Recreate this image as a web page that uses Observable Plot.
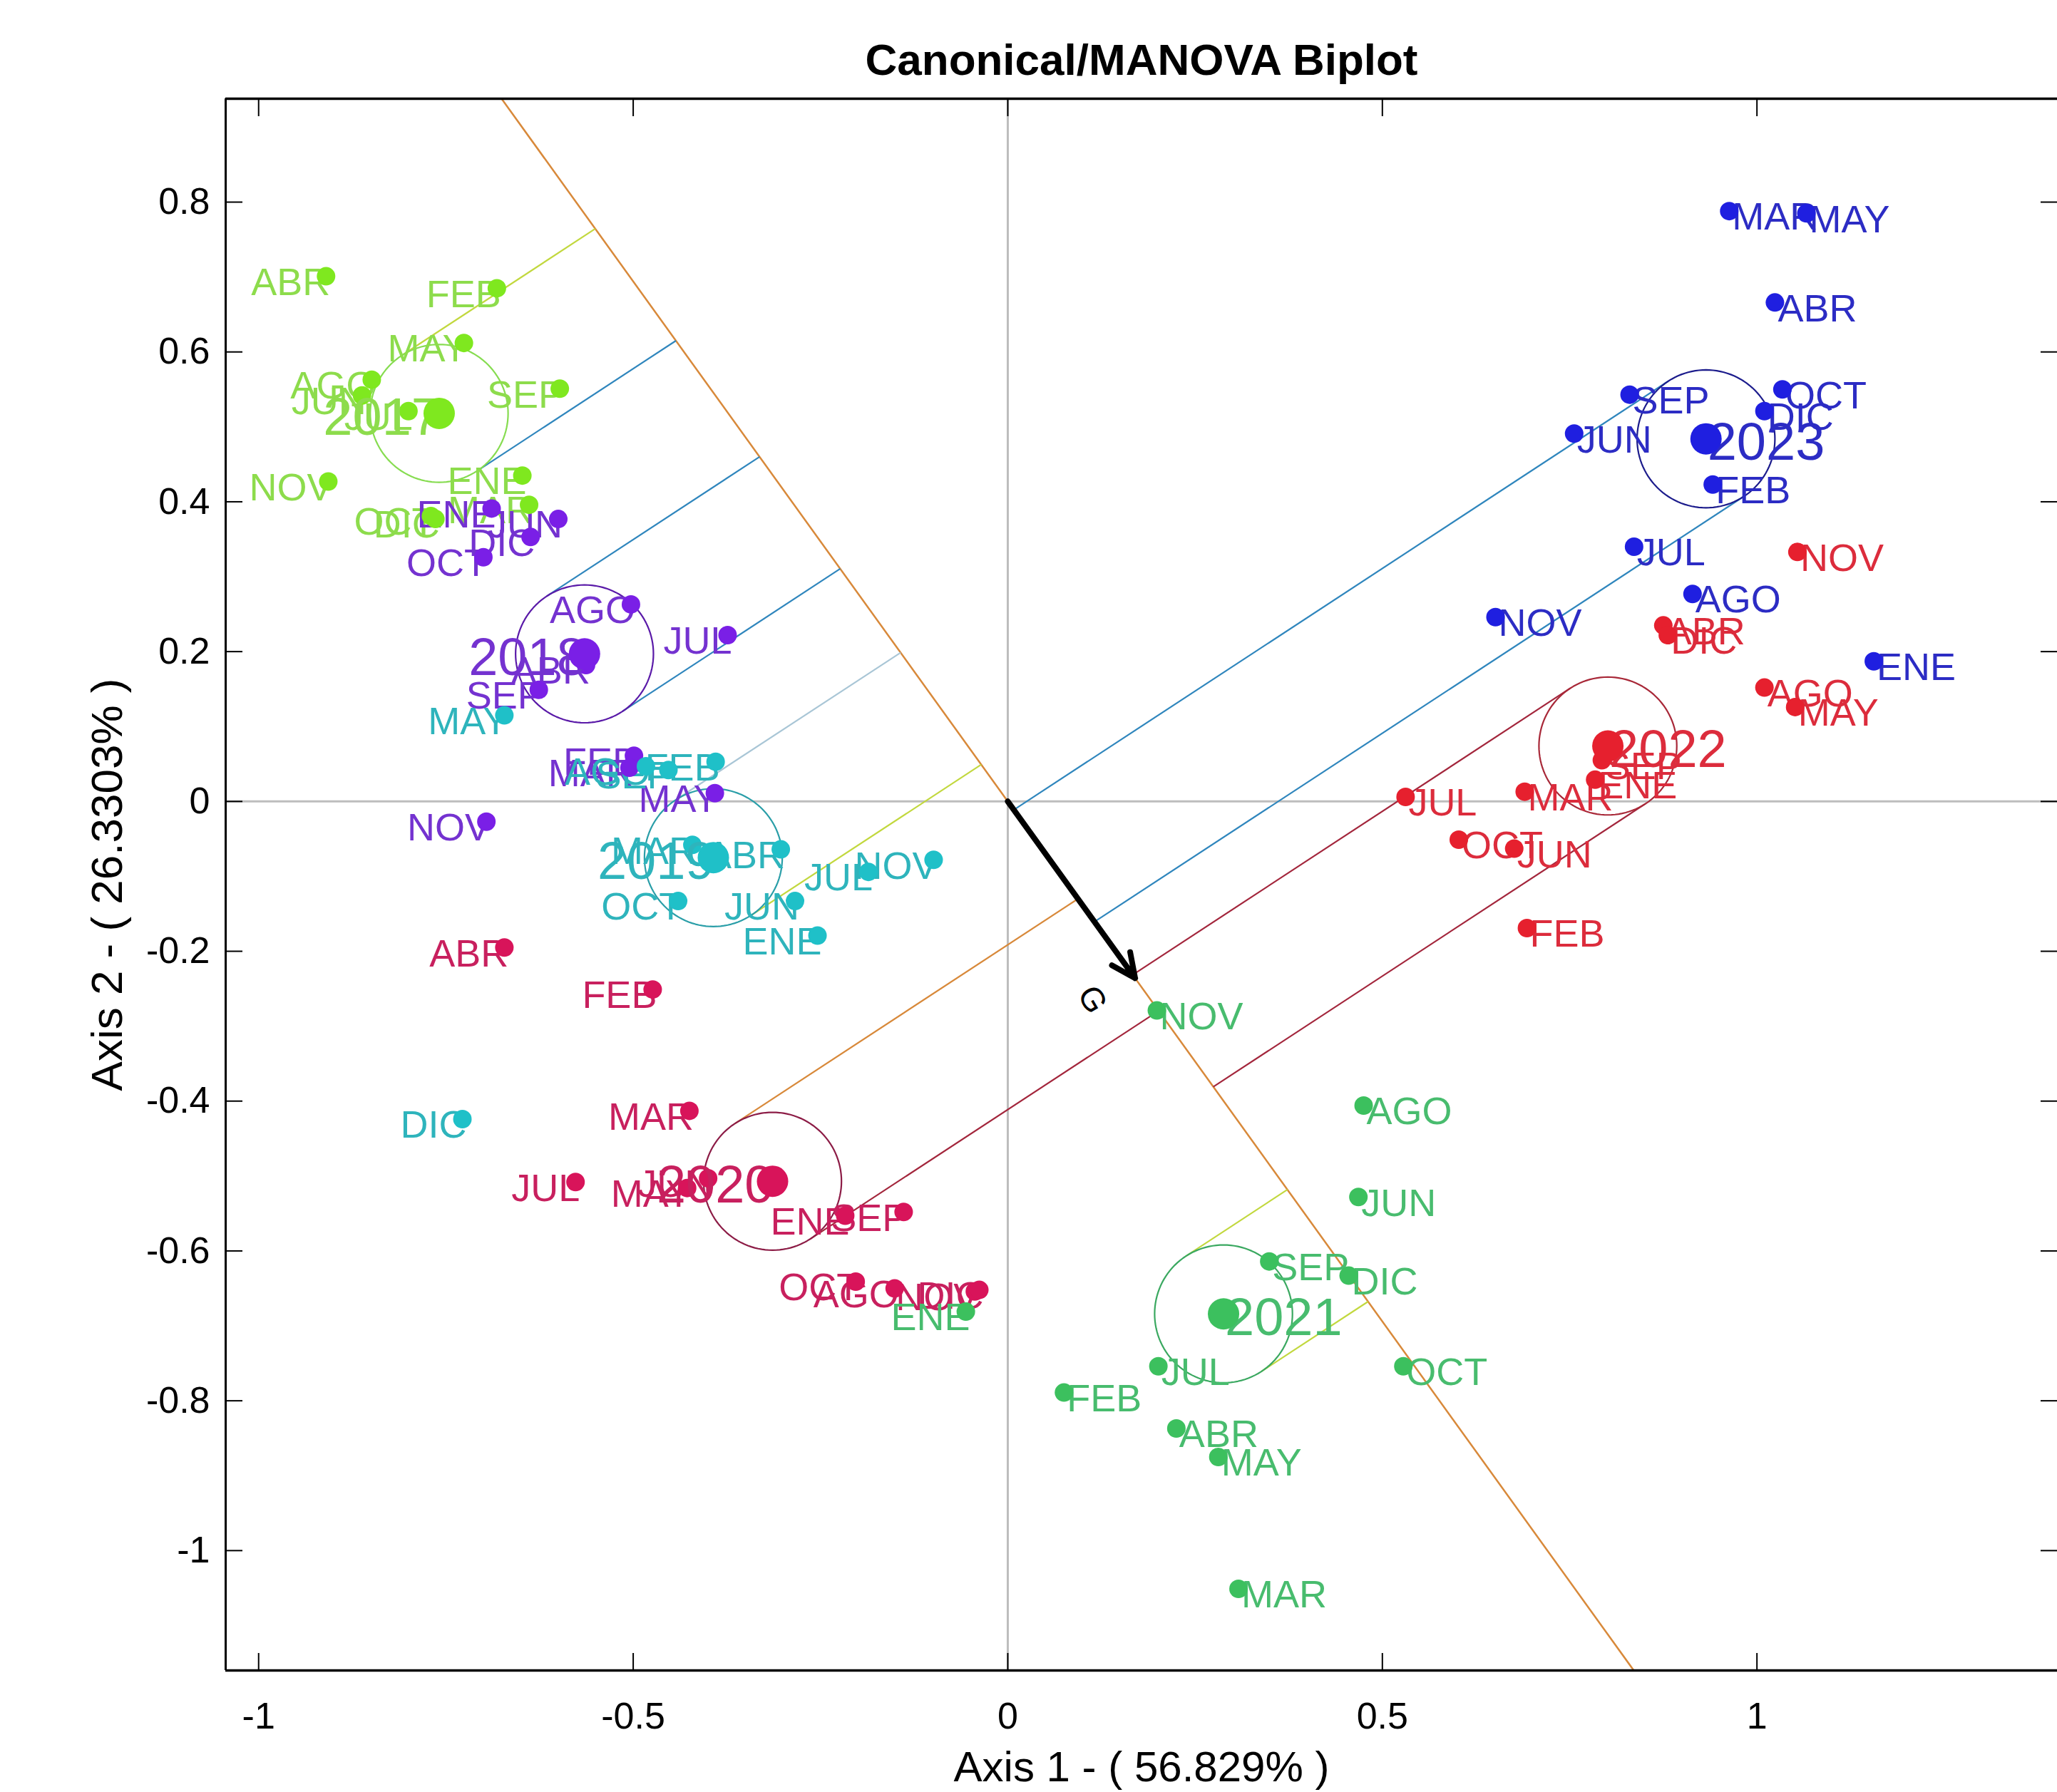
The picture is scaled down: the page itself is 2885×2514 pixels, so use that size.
<!DOCTYPE html>
<html>
<head>
<meta charset="utf-8">
<script src="https://cdn.jsdelivr.net/npm/d3@7"></script>
<script src="https://cdn.jsdelivr.net/npm/@observablehq/plot@0.6"></script>
<style>
  html, body { margin: 0; padding: 0; background: #ffffff; }
  #chart svg { display: block; }
</style>
</head>
<body>
<div id="chart"></div>
<script>
// ---------------- data ----------------
const months = ["ENE", "FEB", "MAR", "ABR", "MAY", "JUN", "JUL", "AGO", "SEP", "OCT", "NOV", "DIC"];
const years = ["2017", "2018", "2019", "2020", "2021", "2022", "2023"];

const x2017 = [-0.648, -0.682, -0.639, -0.910, -0.726, -0.862, -0.800, -0.849, -0.598, -0.770, -0.907, -0.764];
const y2017 = [ 0.435,  0.685,  0.396,  0.701,  0.612,  0.542,  0.521,  0.563,  0.551,  0.381,  0.427,  0.377];
const x2018 = [-0.689, -0.499, -0.505, -0.563, -0.391, -0.600, -0.374, -0.503, -0.626, -0.700, -0.696, -0.637];
const y2018 = [ 0.391,  0.061,  0.045,  0.182,  0.011,  0.377,  0.222,  0.263,  0.149,  0.326, -0.027,  0.353];
const x2019 = [-0.254, -0.390, -0.421, -0.303, -0.672, -0.284, -0.186, -0.483, -0.453, -0.440, -0.099, -0.728];
const y2019 = [-0.179,  0.053, -0.058, -0.064,  0.115, -0.133, -0.094,  0.047,  0.042, -0.133, -0.078, -0.424];
const x2020 = [-0.217, -0.474, -0.425, -0.672, -0.428, -0.400, -0.577, -0.151, -0.139, -0.203, -0.044, -0.038];
const y2020 = [-0.553, -0.251, -0.413, -0.195, -0.516, -0.503, -0.508, -0.650, -0.548, -0.641, -0.654, -0.652];
const x2021 = [-0.056,  0.075,  0.308,  0.225,  0.281,  0.468,  0.201,  0.475,  0.349,  0.528,  0.199,  0.455];
const y2021 = [-0.681, -0.789, -1.051, -0.837, -0.875, -0.528, -0.754, -0.406, -0.614, -0.754, -0.279, -0.633];
const x2022 = [ 0.784,  0.693,  0.690,  0.875,  1.051,  0.676,  0.531,  1.010,  0.793,  0.602,  1.054,  0.881];
const y2022 = [ 0.029, -0.169,  0.013,  0.235,  0.126, -0.063,  0.006,  0.152,  0.055, -0.051,  0.333,  0.222];
const x2023 = [ 1.156,  0.941,  0.963,  1.024,  1.066,  0.756,  0.836,  0.914,  0.830,  1.034,  0.651,  1.010];
const y2023 = [ 0.187,  0.423,  0.788,  0.666,  0.785,  0.491,  0.340,  0.277,  0.543,  0.550,  0.246,  0.521];

const centroidX = [-0.759, -0.565, -0.393, -0.314, 0.288, 0.801, 0.932];
const centroidY = [ 0.518,  0.197, -0.075, -0.507, -0.684, 0.074, 0.484];
const circleRadius = 0.092;          // confidence circle radius (axis units)

const gVector = [0.170, -0.236];     // variable G (arrow & biplot axis direction)
const projDir = [1, 0.655];          // direction of the projection lines

const xTicks = [-1, -0.5, 0, 0.5, 1];
const xTickLabels = ["-1", "-0.5", "0", "0.5", "1"];
const yTicks = [0.8, 0.6, 0.4, 0.2, 0, -0.2, -0.4, -0.6, -0.8, -1];
const yTickLabels = ["0.8", "0.6", "0.4", "0.2", "0", "-0.2", "-0.4", "-0.6", "-0.8", "-1"];

const titleText = "Canonical/MANOVA Biplot";
const xLabel = "Axis 1 - ( 56.829% )";
const yLabel = "Axis 2 - ( 26.3303% )";

// ---------------- styles ----------------
const dotColors    = ["#7fe81f", "#7a1fe6", "#1fc0c8", "#d8145a", "#3cc05e", "#e6202e", "#1f1fe0"];
const textColors   = ["#8ddc4c", "#7432d0", "#2eb4bc", "#c8205e", "#48bc6e", "#dc2c3c", "#2c2cc4"];
const circleColors = ["#86dc50", "#5a1aa8", "#2a9ea8", "#8c1c46", "#3aa860", "#a82838", "#1c1c8c"];
const lineColorsA  = ["#c2d83e", "#2f86bd", "#a9c6d6", "#d8893a", "#c2d83e", "#a3263c", "#2f86bd"];
const lineColorsB  = ["#2f86bd", "#2f86bd", "#c2d83e", "#a3263c", "#c2d83e", "#a3263c", "#2f86bd"];
const axisColor = "#d8893a";
const FONT = "'Liberation Sans', Arial, Helvetica, sans-serif";

// ---------------- derived tables ----------------
const xs = [x2017, x2018, x2019, x2020, x2021, x2022, x2023];
const ys = [y2017, y2018, y2019, y2020, y2021, y2022, y2023];
const points = years.flatMap((yr, g) => months.map((m, i) => ({year: yr, g, month: m, x: xs[g][i], y: ys[g][i]})));
const centroids = years.map((yr, g) => ({year: yr, g, x: centroidX[g], y: centroidY[g]}));

const gl = Math.hypot(gVector[0], gVector[1]);
const a = [gVector[0] / gl, gVector[1] / gl];
const dl = Math.hypot(projDir[0], projDir[1]);
const d = [projDir[0] / dl, projDir[1] / dl];
const nrm = [d[1], -d[0]];
const cross = (u, v) => u[0] * v[1] - u[1] * v[0];

const projLines = centroids.flatMap(c => [-1, 1].map(sgn => {
  const P = [c.x + sgn * circleRadius * nrm[0], c.y + sgn * circleRadius * nrm[1]];
  const s = -cross(P, a) / cross(d, a);
  return {x1: P[0], y1: P[1], x2: P[0] + s * d[0], y2: P[1] + s * d[1],
          color: sgn < 0 ? lineColorsA[c.g] : lineColorsB[c.g]};
}));

const circlePts = centroids.flatMap(c => d3.range(0, 121).map(k => {
  const t = (k / 120) * 2 * Math.PI;
  return {g: c.g, x: c.x + circleRadius * Math.cos(t), y: c.y + circleRadius * Math.sin(t)};
}));

const biplotAxis = [{x1: -3 * a[0], y1: -3 * a[1], x2: 3 * a[0], y2: 3 * a[1]}];
const arrowData = [{x1: 0, y1: 0, x2: gVector[0], y2: gVector[1]}];

const xDomain = [-1.044, 1.401];
const yDomain = [-1.160, 0.938];
const xFmt = new Map(xTicks.map((v, i) => [v, xTickLabels[i]]));
const yFmt = new Map(yTicks.map((v, i) => [v, yTickLabels[i]]));

const chart = Plot.plot({
  width: 2885,
  height: 2514,
  marginLeft: 316,
  marginRight: 0,
  marginTop: 138,
  marginBottom: 171,
  style: {fontFamily: FONT, background: "#ffffff", color: "#000000"},
  x: {domain: xDomain},
  y: {domain: yDomain},
  color: {type: "identity"},
  marks: [
    // zero lines
    Plot.ruleX([0], {stroke: "#bdbdbd", strokeWidth: 3}),
    Plot.ruleY([0], {stroke: "#bdbdbd", strokeWidth: 3}),
    // biplot axis of G
    Plot.link(biplotAxis, {x1: "x1", y1: "y1", x2: "x2", y2: "y2", stroke: axisColor, strokeWidth: 2.5, clip: true}),
    // projection lines of the confidence circles
    Plot.link(projLines, {x1: "x1", y1: "y1", x2: "x2", y2: "y2", stroke: "color", strokeWidth: 2.2, clip: true}),
    // confidence circles
    Plot.line(circlePts, {x: "x", y: "y", z: "g", stroke: p => circleColors[p.g], strokeWidth: 2.2, curve: "linear"}),
    // month labels (left of the point when x<0, right otherwise)
    Plot.text(points.filter(p => p.x < 0), {x: "x", y: "y", text: "month", fill: p => textColors[p.g],
      textAnchor: "end", dx: 6, dy: 9, fontSize: 54}),
    Plot.text(points.filter(p => p.x >= 0), {x: "x", y: "y", text: "month", fill: p => textColors[p.g],
      textAnchor: "start", dx: 4, dy: 9, fontSize: 54}),
    // month points
    Plot.dot(points, {x: "x", y: "y", r: 13, fill: p => dotColors[p.g], stroke: "none"}),
    // year labels and centroids
    Plot.text(centroids.filter(c => c.x < 0), {x: "x", y: "y", text: "year", fill: c => textColors[c.g],
      textAnchor: "end", dx: 2, dy: 6, fontSize: 74}),
    Plot.text(centroids.filter(c => c.x >= 0), {x: "x", y: "y", text: "year", fill: c => textColors[c.g],
      textAnchor: "start", dx: 2, dy: 6, fontSize: 74}),
    Plot.dot(centroids, {x: "x", y: "y", r: 22, fill: c => dotColors[c.g], stroke: "none"}),
    // variable arrow
    Plot.arrow(arrowData, {x1: "x1", y1: "y1", x2: "x2", y2: "y2", stroke: "#000000", strokeWidth: 8, headLength: 7, headAngle: 50}),
    Plot.text(["G"], {x: () => gVector[0], y: () => gVector[1], text: t => t, dx: -60, dy: 30, rotate: 60, fontSize: 46, fill: "#000000"}),
    // frame (top, left, bottom)
    Plot.ruleY([yDomain[1]], {stroke: "#000000", strokeWidth: 3.5}),
    Plot.ruleY([yDomain[0]], {stroke: "#000000", strokeWidth: 3.5}),
    Plot.ruleX([xDomain[0]], {stroke: "#000000", strokeWidth: 3}),
    // axes with inward ticks
    Plot.axisX(xTicks, {anchor: "bottom", tickSize: -24, tickPadding: 69, tickFormat: v => xFmt.get(v), fontSize: 52, label: null, strokeWidth: 2}),
    Plot.axisX(xTicks, {anchor: "top", tickSize: -24, tickFormat: () => "", label: null, strokeWidth: 2}),
    Plot.axisY(yTicks, {anchor: "left", tickSize: -24, tickPadding: 46, tickFormat: v => yFmt.get(v), fontSize: 52, label: null, strokeWidth: 2}),
    Plot.axisY(yTicks, {anchor: "right", tickSize: -24, tickFormat: () => "", label: null, strokeWidth: 2}),
    // titles
    Plot.text([titleText], {frameAnchor: "top", text: t => t, dy: -53, lineAnchor: "middle", textAnchor: "middle", fontSize: 62, fontWeight: "bold", fill: "#000000"}),
    Plot.text([xLabel], {frameAnchor: "bottom", text: t => t, dy: 136, lineAnchor: "middle", textAnchor: "middle", fontSize: 60, fill: "#000000"}),
    Plot.text([yLabel], {frameAnchor: "left", text: t => t, dx: -165, rotate: -90, lineAnchor: "middle", textAnchor: "middle", fontSize: 62, fill: "#000000"})
  ]
});
document.getElementById("chart").appendChild(chart);
</script>
</body>
</html>
